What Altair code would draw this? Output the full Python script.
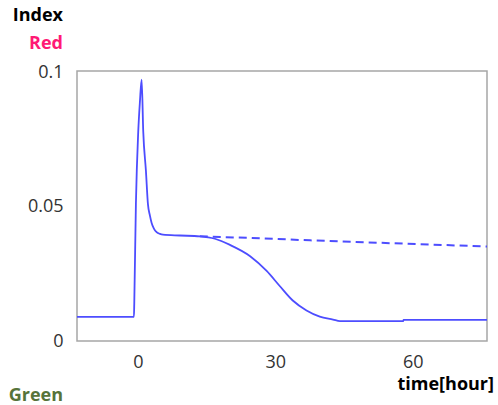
import altair as alt
import pandas as pd

# Solid curve (time in hours, index value)
solid_t = [-13.3, -0.87, -0.80, -0.44, 0.07, 0.44, 0.81, 1.16, 1.75, 2.18, 2.62, 2.99,
           3.49, 4.08, 4.8, 5.46, 9.17, 13.5, 16.8, 20.1, 24.5, 28.1, 31.0, 33.8,
           36.8, 39.7, 42.6, 44.1, 57.9, 58.0, 76.2]
solid_v = [0.0090, 0.0090, 0.0140, 0.0511, 0.0781, 0.0893, 0.0974, 0.0781, 0.0633,
           0.0511, 0.0467, 0.0440, 0.0419, 0.0406, 0.0399, 0.0396, 0.0393, 0.0390,
           0.0381, 0.0358, 0.0316, 0.0261, 0.0204, 0.0151, 0.0114, 0.0091, 0.0080,
           0.0074, 0.0074, 0.0079, 0.0079]

# Dashed curve
dashed_t = [13.5, 24.5, 37.6, 76.2]
dashed_v = [0.0390, 0.0384, 0.0375, 0.0352]

x_ticks = [0, 30, 60]
y_ticks = [0, 0.05, 0.1]

solid = pd.DataFrame({"t": solid_t, "v": solid_v})
dashed = pd.DataFrame({"t": dashed_t, "v": dashed_v})

FONT = "Open Sans"
LINE = "#4d4dff"

xs = alt.Scale(domain=[-13.3, 76.2], nice=False, zero=False)
ys = alt.Scale(domain=[0, 0.1006], nice=False)

xax = alt.Axis(values=x_ticks, title=None, ticks=False, domain=False, grid=False,
               labelFont=FONT, labelFontSize=18, labelColor="#333333",
               labelPadding=12, labelFlush=False)
yax = alt.Axis(values=y_ticks, format="~g", title=None, ticks=False, domain=False,
               grid=False, labelFont=FONT, labelFontSize=18, labelColor="#333333",
               labelPadding=14)

base_solid = alt.Chart(solid).mark_line(color=LINE, strokeWidth=1.8,
                                        interpolate="monotone").encode(
    x=alt.X("t:Q", scale=xs, axis=xax),
    y=alt.Y("v:Q", scale=ys, axis=yax),
    order=alt.Order("t:Q"),
)

base_dashed = alt.Chart(dashed).mark_line(color=LINE, strokeWidth=2,
                                          strokeDash=[8, 5]).encode(
    x=alt.X("t:Q", scale=xs),
    y=alt.Y("v:Q", scale=ys),
)

def label(text, x, y, color, align="right"):
    return alt.Chart(pd.DataFrame({"s": [text]})).mark_text(
        font=FONT, fontSize=18, fontWeight="bold", color=color,
        align=align, baseline="middle"
    ).encode(text="s:N", x=alt.value(x), y=alt.value(y))

# positions relative to the plot origin (77, 71)
texts = [
    label("Index", -14, -55, "#000000"),
    label("Red", -14, -27, "#ff1a75"),
    label("Green", -14, 325, "#56733a"),
    label("time[hour]", 417, 314, "#000000"),
]

chart = alt.layer(base_solid, base_dashed, *texts).properties(
    width=410, height=270,
    autosize=alt.AutoSizeParams(type="none"),
    padding={"left": 77, "top": 71, "right": 11, "bottom": 64},
    background="white",
).configure_view(stroke="#a6a6a6", strokeWidth=1.5)

chart.save("out.html", embed_options={"renderer": "svg", "actions": False})
